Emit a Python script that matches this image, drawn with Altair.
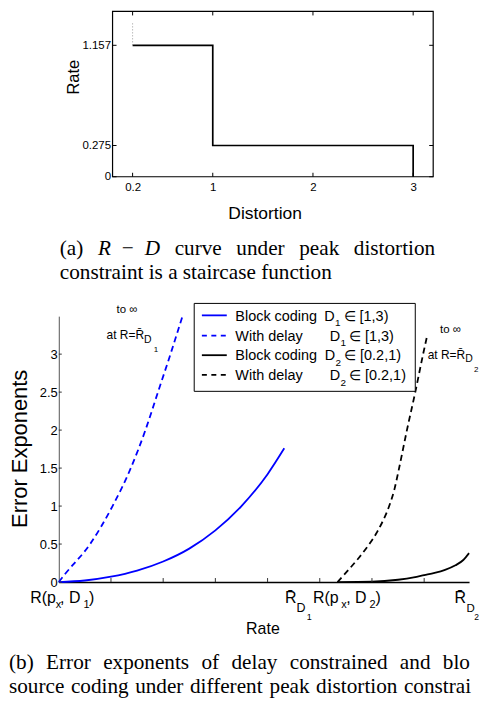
import altair as alt
import pandas as pd

SANS = "Liberation Sans"
SERIF = "Liberation Serif"

# ---------------- data: (a) R-D staircase ----------------
stair_d = [0.2, 1.0, 1.0, 3.0, 3.0]
stair_r = [1.157, 1.157, 0.275, 0.275, 0.0]
dot_d = [0.2, 0.2]
dot_r = [1.157, 1.35]
a_xticks = [0.2, 1, 2, 3]
a_yticks = [0, 0.275, 1.157]
a_xrange = [0, 3.2]       # distortion range of the framed plot
a_yrange = [0, 1.455]     # rate range of the framed plot

# ---------------- data: (b) error exponents ----------------
blk1_x = [0, 0.5, 1, 1.5, 2, 2.5, 3, 3.5, 4, 4.32]
blk1_e = [0, 0.02, 0.07, 0.15, 0.27, 0.44, 0.68, 1.0, 1.42, 1.76]
del1_x = [0, 0.12, 0.6, 1.03, 1.38, 1.66, 1.9, 2.14, 2.37]
del1_e = [0, 0.105, 0.5, 1.0, 1.5, 2.0, 2.5, 3.0, 3.5]
blk2_x = [5.34, 6.0, 6.5, 6.8, 7.0, 7.2, 7.4, 7.6, 7.75, 7.86]
blk2_e = [0, 0.005, 0.03, 0.06, 0.09, 0.12, 0.16, 0.22, 0.29, 0.38]
del2_x = [5.34, 5.55, 5.75, 5.95, 6.1, 6.22, 6.33, 6.43, 6.52, 6.67, 6.83, 6.98, 7.05]
del2_e = [0, 0.16, 0.32, 0.5, 0.66, 0.82, 1.0, 1.22, 1.5, 2.0, 2.5, 3.0, 3.22]
b_xticks = [1, 2, 3, 4, 5, 6, 7]
b_yticks = [0, 0.5, 1, 1.5, 2, 2.5, 3]

legend_names = ["Block coding", "With delay", "Block coding", "With delay"]
legend_sub = ["1", "1", "2", "2"]
legend_sets = ["\u2208 [1,3)", "\u2208 [1,3)", "\u2208 [0.2,1)", "\u2208 [0.2,1)"]
legend_colors = ["#0000ff", "#0000ff", "#000000", "#000000"]
legend_dashed = [False, True, False, True]

# x-axis special labels of panel (b): anchor rate values
xlab_anchor = [0, 4.32, 5.5, 7.86]

cap_a1 = ["(a)", "R", "\u2212", "D", "curve", "under", "peak", "distortion"]
cap_a1_it = [False, True, False, True, False, False, False, False]
cap_a2 = "constraint is a staircase function"
cap_b1 = ["(b)", "Error", "exponents", "of", "delay", "constrained", "and", "block"]
cap_b2 = ["source", "coding", "under", "different", "peak", "distortion", "constrains"]

# ---------------- layout constants ----------------
OX, OY1 = 58, 8.5         # page origin of panel (a) plot area (shares left edge with (b))
OY2 = 313.5               # page y origin of panel (b) plot
W1, H1 = 376, 166
W2, H2 = 412, 267
A_LEFT = 112              # page x where the framed (a) plot starts
PPU1 = (434 - A_LEFT) / (a_xrange[1] - a_xrange[0])
A_X0 = a_xrange[0] - (A_LEFT - OX) / PPU1
XMAX2 = 7.86
PPU2 = W2 / XMAX2
CAP_FS = 21.3
RIGHT = 479.5            # keep everything inside the page width

TNR = {' ': 250, '(': 333, ')': 333, 'a': 444, 'b': 500, 'c': 444, 'd': 500, 'e': 444,
       'f': 333, 'g': 500, 'h': 500, 'i': 278, 'k': 500, 'l': 278, 'n': 500, 'o': 500,
       'p': 500, 'r': 333, 's': 389, 't': 278, 'u': 500, 'v': 500, 'x': 500, 'y': 500,
       'E': 611, '\u2212': 564}
TNR_IT = {'R': 611, 'D': 722}


def tw(s, fs, italic=False):
    tab = TNR_IT if italic else TNR
    return sum(tab.get(ch, 500) for ch in s) * fs / 1000.0


def justify(tokens, italics, weights, x0, x1, fs):
    widths = [tw(t, fs, it) for t, it in zip(tokens, italics)]
    unit = ((x1 - x0) - sum(widths)) / sum(weights)
    xs, x = [], x0
    for i, w in enumerate(widths):
        xs.append(x)
        x += w
        if i < len(weights):
            x += weights[i] * unit
    return xs


def text_layer(rows, font, align="left", style=None, angle=None, limit=None):
    df = pd.DataFrame(rows, columns=["t", "px", "py", "fs"])
    kw = dict(align=align, baseline="alphabetic", font=font, color="black")
    if style:
        kw["fontStyle"] = style
    if angle is not None:
        kw["angle"] = angle
    if limit is not None:
        kw["limit"] = limit
        kw["ellipsis"] = "\u200b"
    return alt.Chart(df).mark_text(**kw).encode(
        x=alt.X("px:Q", scale=None),
        y=alt.Y("py:Q", scale=None),
        text="t:N",
        size=alt.Size("fs:Q", scale=None),
    )


one = pd.DataFrame({"k": [0]})

# ======================= panel (a) =======================
xs1 = alt.Scale(domain=[A_X0, a_xrange[1]], nice=False, zero=False)
ys1 = alt.Scale(domain=a_yrange, nice=False)

ax_a_x = alt.Axis(values=a_xticks, format=".4~g", title=None, grid=False, domain=False,
                  ticks=False, tickSize=0, labelPadding=5, labelFont=SANS,
                  labelFontSize=11.5, labelColor="black", labelFlush=False, labelOverlap=False)
ax_a_y = alt.Axis(values=a_yticks, format=".4~g", title=None, grid=False, domain=False,
                  ticks=False, tickSize=0, labelPadding=2, labelFont=SANS,
                  offset=-(A_LEFT - OX),
                  labelFontSize=11.5, labelColor="black", labelFlush=False, labelOverlap=False)

df_stair = pd.DataFrame({"d": stair_d, "r": stair_r, "i": list(range(len(stair_d)))})
stair = alt.Chart(df_stair).mark_line(color="black", strokeWidth=1.7).encode(
    x=alt.X("d:Q", scale=xs1, axis=ax_a_x),
    y=alt.Y("r:Q", scale=ys1, axis=ax_a_y),
    order="i:Q",
)
df_dot = pd.DataFrame({"d": dot_d, "r": dot_r})
dotted = alt.Chart(df_dot).mark_line(color="#999999", strokeDash=[1, 2], strokeWidth=1).encode(
    x=alt.X("d:Q", scale=xs1, axis=ax_a_x),
    y=alt.Y("r:Q", scale=ys1, axis=ax_a_y),
)
df_box = pd.DataFrame({"x0": [a_xrange[0]], "x1": [a_xrange[1]],
                       "y0": [a_yrange[0]], "y1": [a_yrange[1]]})
frame = alt.Chart(df_box).mark_rect(filled=False, color="black", strokeWidth=1.2).encode(
    x=alt.X("x0:Q", scale=xs1, axis=ax_a_x), x2="x1:Q",
    y=alt.Y("y0:Q", scale=ys1, axis=ax_a_y), y2="y1:Q",
)
tl = 4.0 / PPU1
df_axt = pd.DataFrame({"v": a_xticks})
df_ayl = pd.DataFrame({"v": a_yticks, "a": a_xrange[0], "b": a_xrange[0] + tl})
df_ayr = pd.DataFrame({"v": a_yticks, "a": a_xrange[1], "b": a_xrange[1] - tl})
tick_a = [
    alt.Chart(df_axt).mark_rule(color="black", strokeWidth=1).encode(
        x=alt.X("v:Q", scale=xs1, axis=ax_a_x), y=alt.value(H1), y2=alt.value(H1 - 4)),
    alt.Chart(df_axt).mark_rule(color="black", strokeWidth=1).encode(
        x=alt.X("v:Q", scale=xs1, axis=ax_a_x), y=alt.value(0), y2=alt.value(4)),
    alt.Chart(df_ayl).mark_rule(color="black", strokeWidth=1).encode(
        y=alt.Y("v:Q", scale=ys1, axis=ax_a_y),
        x=alt.X("a:Q", scale=xs1, axis=ax_a_x), x2="b:Q"),
    alt.Chart(df_ayr).mark_rule(color="black", strokeWidth=1).encode(
        y=alt.Y("v:Q", scale=ys1, axis=ax_a_y),
        x=alt.X("a:Q", scale=xs1, axis=ax_a_x), x2="b:Q"),
]

a_titles_c = text_layer([["Distortion", 265.2 - OX, 208.5, 17.5]], SANS, align="center")
a_rate = text_layer([["Rate", 78 - OX, 66, 16.5]], SANS, align="center", angle=270)

xa = justify(cap_a1, cap_a1_it, [1, 0.75, 0.75, 1, 1, 1, 1], 59, 436, CAP_FS)
cap_a_norm = [[t, x - OX, 253 - OY1, CAP_FS] for t, x, it in zip(cap_a1, xa, cap_a1_it) if not it]
cap_a_norm.append([cap_a2, 59 - OX, 277 - OY1, CAP_FS])
cap_a_ital = [[t, x - OX, 253 - OY1, CAP_FS] for t, x, it in zip(cap_a1, xa, cap_a1_it) if it]
cap_a_l1 = text_layer(cap_a_norm, SERIF)
cap_a_l2 = text_layer(cap_a_ital, SERIF, style="italic")

ext_a = alt.Chart(one).mark_rect(opacity=0).encode(
    x=alt.value(100), x2=alt.value(101), y=alt.value(-0.6), y2=alt.value(290 - OY1))

panel_a = alt.layer(
    frame, stair, dotted, *tick_a, a_titles_c, a_rate, cap_a_l1, cap_a_l2, ext_a
).properties(width=W1, height=H1)

# ======================= panel (b) =======================
xs2 = alt.Scale(domain=[0, XMAX2], nice=False, zero=False)
ys2 = alt.Scale(domain=[0, 3.5], nice=False)

ax_b_x = alt.Axis(labels=False, ticks=False, tickSize=0, grid=False, title=None,
                  domainColor="black", domainWidth=1.6)
ax_b_y = alt.Axis(values=b_yticks, format=".2~g", title=None, grid=False, ticks=False,
                  tickSize=0, domainColor="#555555", domainWidth=1, labelPadding=1.5,
                  labelFont=SANS, labelFontSize=13, labelColor="black",
                  labelFlush=False, labelOverlap=False)


def curve(xv, ev, color, dashed):
    df = pd.DataFrame({"r": xv, "e": ev})
    kw = dict(color=color, strokeWidth=1.8, interpolate="monotone")
    if dashed:
        kw["strokeDash"] = [6, 4]
    return alt.Chart(df).mark_line(**kw).encode(
        x=alt.X("r:Q", scale=xs2, axis=ax_b_x),
        y=alt.Y("e:Q", scale=ys2, axis=ax_b_y),
    )


c_blk1 = curve(blk1_x, blk1_e, "#0000ff", False)
c_del1 = curve(del1_x, del1_e, "#0000ff", True)
c_blk2 = curve(blk2_x, blk2_e, "#000000", False)
c_del2 = curve(del2_x, del2_e, "#000000", True)

df_bxt = pd.DataFrame({"v": b_xticks})
df_byt = pd.DataFrame({"v": b_yticks})
tick_b = [
    alt.Chart(df_bxt).mark_rule(color="#333333", strokeWidth=1).encode(
        x=alt.X("v:Q", scale=xs2, axis=ax_b_x), y=alt.value(H2), y2=alt.value(H2 - 4)),
    alt.Chart(df_byt).mark_rule(color="#333333", strokeWidth=1).encode(
        y=alt.Y("v:Q", scale=ys2, axis=ax_b_y), x=alt.value(0), x2=alt.value(3)),
]

# special x labels (anchored on the rate scale)
kinds = {"m": (16, 288), "s": (11, 293), "D": (12.5, 297), "D2": (11.5, 297),
         "d": (9, 305), "d2": (8.5, 305)}
xl_pieces = [
    (0, [("R(p", -28.7, "m"), ("x", -3, "s"), (", D", 1.3, "m"), ("1", 24.7, "s"), (")", 30.3, "m")]),
    (1, [("R\u0304", 0.8, "m"), ("D", 12.3, "D"), ("1", 22.5, "d")]),
    (2, [("R(p", -33, "m"), ("x", -4.6, "s"), (", D", 0.4, "m"), ("2", 23.7, "s"), (")", 29.8, "m")]),
    (3, [("R\u0304", -14.5, "m"), ("D", -2.5, "D2"), ("2", 5.3, "d2")]),
]
xl_rows = []
for ai, pieces in xl_pieces:
    for t, dx, k in pieces:
        fs, py = kinds[k]
        xl_rows.append([t, xlab_anchor[ai] + dx / PPU2, py, fs])
df_xl = pd.DataFrame(xl_rows, columns=["t", "xv", "py", "fs"])
xlabels = alt.Chart(df_xl).mark_text(align="left", baseline="alphabetic", font=SANS, color="black").encode(
    x=alt.X("xv:Q", scale=xs2, axis=ax_b_x),
    y=alt.Y("py:Q", scale=None),
    text="t:N",
    size=alt.Size("fs:Q", scale=None),
)

# legend
leg_box = alt.Chart(one).mark_rect(fill="white", stroke="black", strokeWidth=1).encode(
    x=alt.value(136), x2=alt.value(358), y=alt.value(-12.8), y2=alt.value(75.5))
row_y = [-0.8, 19.5, 39.2, 59.0]
d_x = [266.5, 272, 267, 272]
leg_lines = []
leg_rows = []
for i in range(4):
    kw = dict(color=legend_colors[i], strokeWidth=1.8)
    if legend_dashed[i]:
        kw["strokeDash"] = [5, 4.5]
    leg_lines.append(alt.Chart(one).mark_rule(**kw).encode(
        x=alt.value(143.7), x2=alt.value(168.7), y=alt.value(row_y[i])))
    base = row_y[i] + 5.2
    leg_rows.append([legend_names[i], 177.3, base, 14.5])
    leg_rows.append(["D", d_x[i], base, 14.5])
    leg_rows.append([legend_sub[i], d_x[i] + 10.8, base + 5.5, 10])
    leg_rows.append([legend_sets[i], d_x[i] + 19.5, base, 14.5])
leg_text = text_layer(leg_rows, SANS)

# annotations
ann_left = text_layer([
    ["at R=R\u0304", 48, 22.5, 12], ["D", 85.7, 26.5, 10.5], ["1", 95.3, 35.8, 8],
    ["at R=R\u0304", 370.5, 43.2, 12], ["D", 408.2, 46.5, 10.5], ["2", 417, 55.8, 8],
], SANS)
ann_center = text_layer([
    ["to \u221e", 68.5, -3.5, 11.5], ["to \u221e", 393.3, 17.2, 11.5],
    ["Rate", 205, 319.5, 16],
], SANS, align="center")
b_ytitle = text_layer([["Error Exponents", 25.8 - OX, 446.7 - OY2, 22]], SANS,
                      align="center", angle=270)

# caption (b)
b1_it = [False] * len(cap_b1)
b2_it = [False] * len(cap_b2)
xb1 = justify(cap_b1, b1_it, [1] * (len(cap_b1) - 1), 8, 491, CAP_FS)
xb2 = justify(cap_b2, b2_it, [1] * (len(cap_b2) - 1), 8, 491, CAP_FS)
yb1, yb2 = 667.8 - OY2, 691.6 - OY2
cap_b_rows = [[t, x - OX, yb1, CAP_FS] for t, x in zip(cap_b1[:-1], xb1[:-1])]
cap_b_rows += [[t, x - OX, yb2, CAP_FS] for t, x in zip(cap_b2[:-1], xb2[:-1])]
cap_b_main = text_layer(cap_b_rows, SERIF)
cap_b_last1 = text_layer([[cap_b1[-1], xb1[-1] - OX, yb1, CAP_FS]], SERIF, limit=RIGHT - xb1[-1])
cap_b_last2 = text_layer([[cap_b2[-1], xb2[-1] - OX, yb2, CAP_FS]], SERIF, limit=RIGHT - xb2[-1])

ext_b = alt.Chart(one).mark_rect(opacity=0).encode(
    x=alt.value(8 - OX), x2=alt.value(9 - OX), y=alt.value(290 - OY2), y2=alt.value(0))

panel_b = alt.layer(
    c_blk1, c_del1, c_blk2, c_del2, *tick_b, xlabels,
    leg_box, *leg_lines, leg_text, ann_left, ann_center, b_ytitle,
    cap_b_main, cap_b_last1, cap_b_last2, ext_b
).properties(width=W2, height=H2)

chart = alt.vconcat(panel_a, panel_b, spacing=0).properties(
    padding=0).configure_view(stroke="transparent")

chart.save("out.html", embed_options={"renderer": "svg", "actions": False})
